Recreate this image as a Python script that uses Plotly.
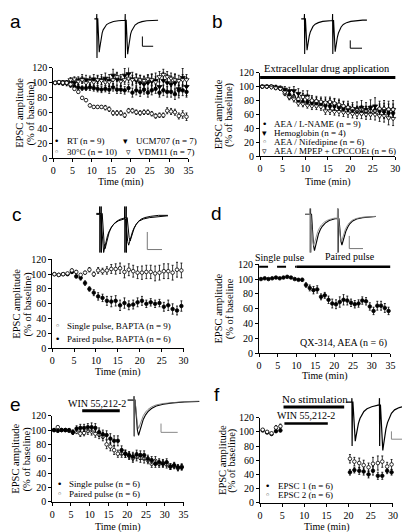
import plotly.graph_objects as go

W, H = 410, 532
SERIF = "Liberation Serif, DejaVu Serif, serif"
SANS = "Liberation Sans, Arial, sans-serif"

# ---------------- data ----------------
t35 = [0.5, 1.5, 2.5, 3.5, 4.5, 5.5, 6.5, 7.5, 8.5, 9.5, 10.5, 11.5, 12.5, 13.5, 14.5,
       15.5, 16.5, 17.5, 18.5, 19.5, 20.5, 21.5, 22.5, 23.5, 24.5, 25.5, 26.5, 27.5,
       28.5, 29.5, 30.5, 31.5, 32.5, 33.5, 34.5]
t30 = t35[:30]

# panel a
a_rt = [100, 100, 99, 100, 97, 95, 94, 93, 93, 94, 93, 92, 91, 92, 91, 94, 91, 91, 90, 93,
        87, 90, 88, 91, 87, 90, 92, 87, 90, 88, 88, 85, 90, 90, 88]
a_rt_err = [2, 2, 2, 2, 3, 3, 3, 3, 3, 4, 4, 4, 4, 4, 5, 5, 5, 5, 5, 5, 6, 6, 6, 6, 6, 6, 6, 6,
            7, 7, 7, 7, 7, 7, 7]
a_30c = [100, 101, 100, 100, 98, 92, 88, 80, 77, 70, 68, 68, 68, 67, 65, 60, 60, 60, 57, 63,
         63, 61, 60, 61, 61, 59, 56, 57, 57, 63, 62, 61, 56, 58, 55]
a_30c_err = [1, 1, 1, 1, 2, 2, 2, 2, 2, 2, 2, 2, 2, 3, 3, 3, 3, 3, 3, 3, 3, 3, 3, 3, 3, 3, 3, 3,
             3, 4, 4, 4, 4, 5, 5]
a_ucm = [100, 101, 101, 99, 101, 100, 103, 105, 104, 103, 105, 103, 104, 106, 103, 110, 105,
         103, 110, 112, 105, 103, 100, 98, 100, 102, 103, 95, 103, 100, 98, 100, 92, 107, 95]
a_ucm_err = [2, 2, 2, 3, 3, 4, 5, 6, 6, 6, 6, 7, 7, 7, 8, 8, 8, 8, 9, 9, 9, 9, 10, 10, 10, 10,
             10, 11, 11, 11, 11, 12, 12, 12, 12]
a_vdm = [100, 100, 100, 101, 104, 105, 102, 104, 100, 102, 101, 104, 103, 101, 101, 104, 108,
         102, 104, 106, 104, 105, 104, 103, 105, 104, 101, 108, 111, 108, 106, 104, 103, 104, 104]
a_vdm_err = [2, 2, 2, 2, 3, 3, 4, 4, 4, 5, 5, 5, 5, 5, 6, 6, 6, 6, 6, 6, 6, 6, 6, 6, 6, 7, 7, 7,
             7, 7, 7, 7, 7, 7, 7]

# panel b
b_lname = [100, 100, 100, 99, 97, 93, 88, 85, 80, 78, 78, 77, 76, 75, 73, 72, 72, 70, 68, 68,
           66, 65, 65, 64, 65, 66, 65, 64, 62, 62]
b_lname_err = [1, 1, 1, 2, 2, 3, 3, 4, 4, 4, 4, 4, 5, 5, 5, 5, 5, 5, 6, 6, 6, 6, 6, 7, 7, 7, 7,
               8, 8, 8]
b_hemo = [100, 100, 100, 99, 98, 96, 94, 94, 90, 86, 86, 79, 78, 77, 77, 77, 75, 73, 70, 70,
          68, 68, 70, 67, 70, 72, 67, 67, 66, 67]
b_hemo_err = [2, 2, 2, 3, 3, 4, 5, 6, 7, 8, 8, 8, 8, 8, 8, 8, 8, 9, 9, 9, 9, 10, 10, 10, 11, 12,
              12, 13, 13, 13]
b_nif = [100, 100, 100, 98, 97, 90, 85, 85, 82, 85, 84, 80, 79, 78, 77, 78, 76, 74, 72, 70,
         68, 66, 67, 65, 65, 65, 68, 68, 67, 67]
b_nif_err = [1, 1, 1, 2, 2, 3, 4, 4, 4, 5, 5, 5, 5, 5, 5, 5, 6, 6, 6, 6, 6, 6, 6, 7, 7, 7, 7, 8,
             8, 8]
b_mpep = [100, 100, 99, 98, 97, 92, 85, 82, 76, 75, 73, 72, 72, 71, 65, 65, 64, 64, 63, 62,
          61, 60, 61, 60, 60, 60, 58, 58, 55, 54]
b_mpep_err = [1, 1, 1, 2, 2, 3, 3, 4, 4, 4, 4, 5, 5, 5, 5, 5, 5, 6, 6, 6, 6, 6, 7, 7, 7, 8, 8,
              9, 10, 10]

# panel c
c_single = [100, 99, 100, 101, 105, 103, 99, 102, 106, 100, 105, 104, 105, 107, 107, 108, 103,
            106, 104, 102, 102, 103, 103, 101, 102, 104, 104, 102, 106, 105]
c_single_err = [1, 1, 1, 1, 2, 2, 2, 2, 3, 3, 4, 4, 5, 6, 7, 7, 8, 8, 8, 8, 9, 9, 9, 10, 10, 10,
                10, 10, 10, 10]
c_paired = [100, 99, 100, 100, 103, 97, 95, 88, 80, 75, 70, 68, 64, 63, 64, 58, 61, 58, 59, 62,
            64, 60, 62, 60, 61, 56, 58, 53, 51, 57]
c_paired_err = [1, 1, 1, 1, 2, 2, 3, 3, 3, 4, 5, 5, 6, 7, 7, 7, 7, 6, 6, 6, 6, 5, 5, 5, 5, 6, 7,
                7, 6, 7]

# panel d
d_qx = [100, 101, 100, 101, 102, 101, 102, 103, 102, 100, 99, 99, 92, 88, 85, 86, 76, 78, 72,
        67, 66, 69, 72, 71, 68, 66, 67, 71, 70, 63, 57, 64, 64, 61, 57]
d_qx_err = [1, 1, 1, 1, 1, 1, 1, 1, 1, 1, 1, 2, 3, 4, 5, 5, 4, 4, 5, 6, 6, 7, 7, 6, 5, 5, 5, 5,
            5, 5, 5, 6, 6, 6, 5]

# panel e
e_single = [100, 99, 100, 100, 100, 97, 102, 103, 103, 104, 104, 103, 97, 94, 93, 88, 85, 85,
            72, 67, 65, 63, 66, 65, 65, 60, 58, 53, 55, 53, 55, 49, 51, 48, 48]
e_single_err = [2, 2, 2, 2, 2, 3, 4, 5, 5, 5, 6, 6, 6, 6, 6, 7, 7, 7, 6, 5, 5, 6, 6, 6, 6, 5,
                5, 5, 5, 5, 5, 4, 4, 4, 4]
e_paired = [100, 104, 100, 100, 99, 97, 98, 95, 96, 99, 98, 95, 94, 91, 80, 77, 72, 67, 67, 67,
            64, 61, 63, 61, 60, 58, 53, 57, 53, 54, 52, 49, 50, 47, 49]
e_paired_err = [2, 2, 2, 2, 2, 3, 3, 4, 4, 5, 5, 5, 6, 6, 6, 6, 6, 5, 5, 5, 5, 6, 6, 6, 6, 5,
                5, 6, 5, 5, 5, 4, 4, 4, 4]

# panel f
f_time = [0.6, 1.6, 2.6, 3.6, 4.6, 20.3, 21.3, 22.4, 23.4, 24.5, 25.5, 26.6, 27.6, 28.7, 29.7]
f_epsc1 = [102, 99, 97, 101, 102, 43, 46, 45, 44, 40, 45, 38, 38, 45, 43]
f_epsc1_err = [1, 1, 1, 2, 2, 4, 4, 5, 5, 5, 6, 5, 5, 4, 4]
f_epsc2 = [103, 100, 98, 106, 108, 62, 58, 56, 53, 50, 55, 56, 58, 51, 54]
f_epsc2_err = [1, 1, 1, 3, 3, 6, 6, 7, 7, 6, 9, 10, 8, 6, 7]

# application periods (min)
b_drug_period = [0, 30.3]
d_single_period = [0, 10]
d_paired_period = [10, 35]
e_win_period = [8, 18]
f_nostim_period = [5.3, 19]
f_win_period = [5.5, 15.3]

x_ticks_35 = [0, 5, 10, 15, 20, 25, 30, 35]
x_ticks_30 = [0, 5, 10, 15, 20, 25, 30]
y_ticks = [0, 20, 40, 60, 80, 100, 120]

# EPSC waveform template (normalised time / amplitude)
EPSC_T = [0, 0.5, 1.0, 1.5, 2.0, 2.7, 3.5, 4.5, 5.5, 7, 9, 12, 16, 21, 27, 34, 45, 60]
EPSC_I = [0, 0.45, 0.85, 1.0, 0.88, 0.7, 0.55, 0.42, 0.33, 0.24, 0.17, 0.12, 0.08, 0.055,
          0.04, 0.03, 0.02, 0.015]

# ---------------- layout helpers ----------------
BOX = {
    'a': (43, 181, 55, 147.5, 35),
    'b': (254, 392, 60, 145.5, 30),
    'c': (42, 176, 251, 342, 30),
    'd': (253, 387, 256, 347, 35),
    'e': (42, 176, 411, 499, 35),
    'f': (254, 389.5, 413, 500, 30),
}
IDX = {'a': 1, 'b': 2, 'c': 3, 'd': 4, 'e': 5, 'f': 6}


def px(x):
    return x / W


def py(y):
    return 1 - y / H


def ax_name(k, kind):
    return f"{kind}axis" + ("" if k == 1 else str(k))


def ref(k, kind):
    return kind + ("" if k == 1 else str(k))


fig = go.Figure()
layout = dict(width=W, height=H, margin=dict(l=0, r=0, t=0, b=0),
              paper_bgcolor='white', plot_bgcolor='rgba(0,0,0,0)', showlegend=False)

axis_style = dict(showline=True, linecolor='black', linewidth=1, ticks='outside', ticklen=3,
                  tickwidth=1, tickcolor='black', showgrid=False, zeroline=False,
                  tickfont=dict(family=SERIF, size=10, color='black'), fixedrange=True)

annotations = []
shapes = []

for p, (x0, x1, yt, yb, xmax) in BOX.items():
    k = IDX[p]
    layout[ax_name(k, 'x')] = dict(axis_style, domain=[px(x0), px(x1)], range=[0, xmax],
                                   anchor=ref(k, 'y'),
                                   tickvals=x_ticks_35 if xmax == 35 else x_ticks_30)
    layout[ax_name(k, 'y')] = dict(axis_style, domain=[py(yb), py(yt)], range=[0, 120],
                                   anchor=ref(k, 'x'), tickvals=y_ticks)

layout['xaxis7'] = dict(domain=[0, 1], range=[0, W], visible=False, fixedrange=True, anchor='y7')
layout['yaxis7'] = dict(domain=[0, 1], range=[H, 0], visible=False, fixedrange=True, anchor='x7')


def add_series(p, x, y, err, symbol, filled, size=3.6):
    k = IDX[p]
    fig.add_trace(go.Scatter(
        x=x, y=y, mode='markers', xaxis=ref(k, 'x'), yaxis=ref(k, 'y'), cliponaxis=False,
        marker=dict(symbol=symbol, size=size, color='black' if filled else 'white',
                    line=dict(color='black', width=0.8)),
        error_y=dict(type='data', array=err, visible=True, color='black', thickness=0.8,
                     width=1),
        hoverinfo='skip'))


add_series('a', t35, a_ucm, a_ucm_err, 'triangle-down', True, 4.5)
add_series('a', t35, a_vdm, a_vdm_err, 'triangle-down', False, 4.5)
add_series('a', t35, a_rt, a_rt_err, 'circle', True)
add_series('a', t35, a_30c, a_30c_err, 'circle', False)

add_series('b', t30, b_hemo, b_hemo_err, 'triangle-down', True, 4.5)
add_series('b', t30, b_lname, b_lname_err, 'circle', True)
add_series('b', t30, b_nif, b_nif_err, 'circle', False)
add_series('b', t30, b_mpep, b_mpep_err, 'triangle-down', False, 4.5)

add_series('c', t30, c_paired, c_paired_err, 'circle', True)
add_series('c', t30, c_single, c_single_err, 'circle', False)

add_series('d', t35, d_qx, d_qx_err, 'circle', True)

add_series('e', t35, e_paired, e_paired_err, 'circle', False)
add_series('e', t35, e_single, e_single_err, 'circle', True)

add_series('f', f_time, f_epsc1, f_epsc1_err, 'circle', True)
add_series('f', f_time, f_epsc2, f_epsc2_err, 'circle', False)


# ---------------- example EPSC traces ----------------
def build_sweep(x_start, x_end, base, onsets, depths, tscale, art_top, art_bot):
    xs, ys = [x_start], [base]
    for k, (o, d) in enumerate(zip(onsets, depths)):
        stop = onsets[k + 1] - 1.3 if k + 1 < len(onsets) else x_end
        y0 = ys[-1]
        resid = y0 - base
        xs += [o - 1.2, o - 1.0, o - 0.8, o - 0.4]
        ys += [y0, art_top, art_bot, y0]
        for t, i in zip(EPSC_T, EPSC_I):
            x = o + t * tscale
            if x >= stop:
                xs.append(stop)
                ys.append(ys[-1])
                break
            r = resid * max(0.0, 1 - t * tscale / 12)
            xs.append(x)
            ys.append(base + i * d + r)
        else:
            xs.append(stop)
            ys.append(ys[-1])
    return xs, ys


sweeps = [
    (85, 150, 5, [88.5, 117.5], [34, 35], 1.0, 0, 45, 'black', 1.1),
    (296, 363, 5, [300.3, 329.0], [32, 32], 1.1, 0, 41, 'black', 1.1),
    (87, 160, 205, [91.5, 117.0], [39, 28], 2.0, 197, 244, 'black', 1.0),
    (87, 160, 204, [93.0, 118.5], [36, 25], 2.0, 197, 244, 'black', 1.0),
    (300, 372, 205, [306.5, 334.5], [37, 28], 2.0, 199, 244, 'black', 1.1),
    (300, 372, 205, [305.8, 334.0], [32, 25], 2.0, 199, 244, '#888888', 0.9),
    (119, 192, 395, [126.5], [36], 2.4, 391, 432, 'black', 1.1),
    (119, 192, 395, [126.5], [29], 2.4, 391, 432, '#666666', 0.8),
    (342, 410, 397, [348.7, 376.8], [40, 47], 1.6, 393, 442, 'black', 1.2),
]
for (xs0, xe, base, ons, dps, ts, at, ab, col, lw) in sweeps:
    xs, ys = build_sweep(xs0, xe, base, ons, dps, ts, at, ab)
    fig.add_trace(go.Scatter(x=xs, y=ys, mode='lines', xaxis='x7', yaxis='y7',
                             line=dict(color=col, width=lw), hoverinfo='skip'))

scale_bars = [
    (134, 23, 33, 145, 'black'),
    (346, 27, 35, 358, 'black'),
    (139, 223, 241, 154, '#777777'),
    (345, 227, 240, 359, '#777777'),
    (153, 419, 428, 170, '#888888'),
    (388, 427, 435, 403, '#888888'),
]
for (bx, by0, by1, bx1, col) in scale_bars:
    shapes.append(dict(type='path', xref='x7', yref='y7',
                       path=f"M{bx},{by0} L{bx},{by1} L{bx1},{by1}",
                       line=dict(color=col, width=1)))


def hbar(k, period, ypx, width=3, dash='solid'):
    shapes.append(dict(type='line', xref=ref(k, 'x'), yref='paper', x0=period[0], x1=period[1],
                       y0=py(ypx), y1=py(ypx), line=dict(color='black', width=width, dash=dash)))


hbar(2, b_drug_period, 65)
hbar(4, d_single_period, 258.5, 2, 'dash')
hbar(4, d_paired_period, 258.5, 2.5)
hbar(5, e_win_period, 406)
hbar(6, f_nostim_period, 402)
hbar(6, f_win_period, 419, 2.5)


def text(x, y, s, size=10, family=SERIF, xanchor='center', angle=0):
    annotations.append(dict(x=px(x), y=py(y), xref='paper', yref='paper', text=s,
                            showarrow=False, xanchor=xanchor, yanchor='middle',
                            textangle=angle,
                            font=dict(family=family, size=size, color='black')))


text(322, 56, 'Extracellular drug application', 10.5)
text(274, 249, 'Single pulse', 10)
text(346, 248, 'Paired pulse', 10)
text(88, 398, 'WIN 55,212-2', 10)
text(310, 394, 'No stimulation', 11)
text(301, 411, 'WIN 55,212-2', 10)
text(386, 337, 'QX-314, AEA (n = 6)', 10, xanchor='right')

for s, x, y in [('a', 5, 8), ('b', 211, 8), ('c', 6, 205), ('d', 210, 204), ('e', 5, 399),
                ('f', 210, 389)]:
    text(x, y, s, 19, SANS)

for p, (x0, x1, yt, yb, xmax) in BOX.items():
    yc = (yt + yb) / 2
    tx = {'a': 9, 'b': 212, 'c': 6, 'd': 212, 'e': 5, 'f': 215}[p]
    second = '(% of baseline' if p == 'd' else '(% of baseline)'
    text(tx, yc, 'EPSC amplitude', 10.5, angle=-90)
    text(tx + 11, yc, second, 10.5, angle=-90)
    ty = {'a': 172, 'b': 172, 'c': 366, 'd': 370, 'e': 525, 'f': 525}[p]
    text((x0 + x1) / 2, ty, 'Time (min)', 10)

legend_rows = [
    (46, 55, 130, '•', 'RT (n = 9)'), (117, 125, 130, '▾', 'UCM707 (n = 7)'),
    (46, 55, 141, '◦', '30°C (n = 10)'), (120, 127, 141, '▿', 'VDM11 (n = 7)'),
    (259, 266, 113, '•', 'AEA / L-NAME (n = 9)'), (259, 266, 122, '▾', 'Hemoglobin (n = 4)'),
    (259, 266, 131, '◦', 'AEA / Nifedipine (n = 6)'),
    (259, 266, 140, '▿', 'AEA / MPEP + CPCCOEt (n = 6)'),
    (47, 55, 319, '◦', 'Single pulse, BAPTA (n = 9)'),
    (47, 55, 333, '•', 'Paired pulse, BAPTA (n = 6)'),
    (49, 57, 481, '•', 'Single pulse (n = 6)'), (49, 57, 491, '◦', 'Paired pulse (n = 6)'),
    (262, 270, 483, '•', 'EPSC 1 (n = 6)'), (262, 270, 492, '◦', 'EPSC 2 (n = 6)'),
]
for gx, tx, y, g, s in legend_rows:
    text(gx, y, g, 9, 'DejaVu Sans')
    text(tx, y, s, 9, xanchor='left')

layout['annotations'] = annotations
layout['shapes'] = shapes
fig.update_layout(**layout)
fig.write_html("out.html")
